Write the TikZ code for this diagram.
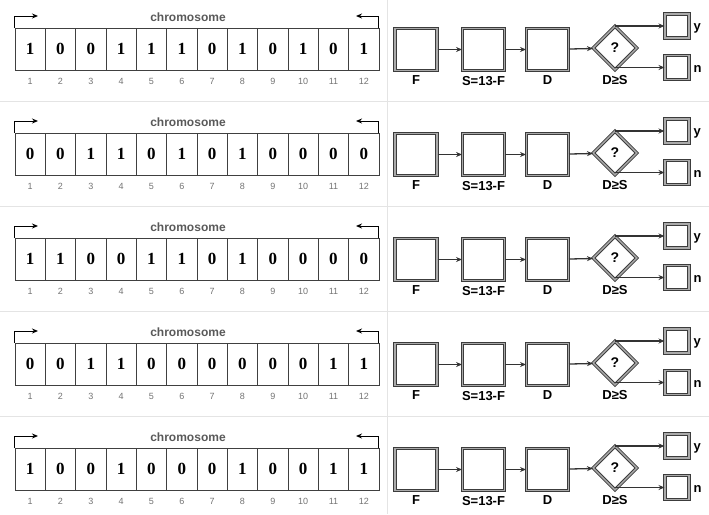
\documentclass[tikz,border=0pt]{standalone}
\usepackage{fontspec}
\setmainfont{Liberation Serif}
\newfontfamily\sansf{Liberation Sans}
\usetikzlibrary{positioning}
\usetikzlibrary{shapes.geometric}
\usetikzlibrary{arrows.meta}

\definecolor{boxdark}{HTML}{3C3C3C}
\definecolor{boxlight}{HTML}{AAAAAA}
\definecolor{sepgray}{HTML}{E4E4E4}

\tikzset{
  cell/.style={draw=black!75, line width=.9pt, minimum width=30.33pt, minimum height=42pt,
    inner sep=0pt, outer sep=0pt, font=\fontsize{17}{17}\selectfont\bfseries},
  idx/.style={text=black!55, inner sep=0pt, font=\sansf\fontsize{9}{9}\selectfont},
  chrom/.style={text=black!65, font=\sansf\bfseries\fontsize{12}{12}\selectfont},
  fbox/.style={draw=boxdark, double=boxlight, line width=1pt, double distance=1.4pt,
    minimum size=42pt, inner sep=0pt},
  sbox/.style={fbox, minimum size=24pt},
  qbox/.style={draw=boxdark, double=boxlight, line width=1pt, double distance=1.4pt,
    diamond, minimum size=44pt, inner sep=0pt, font=\sansf\bfseries\fontsize{14}{14}\selectfont},
  flbl/.style={font=\sansf\bfseries\fontsize{13}{13}\selectfont, inner sep=1pt,
    text height=9.5pt, text depth=0pt},
  arr/.style={draw=black!80, line width=1.3pt, -{Stealth[length=6pt,width=5pt]}},
  brk/.style={black, line width=1pt, -{Stealth[length=6pt,width=5pt]}}
}

\begin{document}
\begin{tikzpicture}[x=1pt,y=-1pt]
\useasboundingbox (0,0) rectangle (709,514);

% row separators
\draw [sepgray, line width=1pt] (387,0) -- (387,514);
\foreach \r in {1,...,4}
  \draw [sepgray, line width=1pt] (0,28+105*\r-32) -- (709,28+105*\r-32);

\foreach \bits [count=\r from 0] in {{1,0,0,1,1,1,0,1,0,1,0,1},{0,0,1,1,0,1,0,1,0,0,0,0},
  {1,1,0,0,1,1,0,1,0,0,0,0},{0,0,1,1,0,0,0,0,0,0,1,1},{1,0,0,1,0,0,0,1,0,0,1,1}} {
\begin{scope}[shift={(0,105*\r)}]
  % chromosome
  \foreach \b [count=\i] in \bits {
    \node [cell] (c\r-\i) at (15+30.33*\i-15.17,49) {\b};
    \node [idx, below=8pt of c\r-\i] (i\r-\i) {\i};
  }
  \node [chrom] (t\r) at (188,17) {chromosome};
  \coordinate (al\r) at (38,16);
  \coordinate (ar\r) at (356,16);
  \draw [brk] (c\r-1.north west) |- (al\r);
  \draw [brk] (c\r-12.north east) |- (ar\r);

  % flow
  \node [fbox] (f\r) at (416,49.5) {};
  \node [fbox] (s\r) at (483.5,49.5) {};
  \node [fbox] (d\r) at (547.5,49.5) {};
  \node [qbox] (q\r) at (615,48) {?};
  \node [sbox] (y\r) at (677,26) {};
  \node [sbox] (n\r) at (677,67.5) {};
  \node [flbl, below=3pt of f\r] (fl\r) {F};
  \node [flbl, below=4pt of s\r] (sl\r) {S=13-F};
  \node [flbl, below=3pt of d\r] (dl\r) {D};
  \node [flbl, below=3pt of q\r] (ql\r) {D≥S};
  \node [flbl, right=3pt of y\r] (yl\r) {y};
  \node [flbl, right=3pt of n\r] (nl\r) {n};
  \draw [arr] (f\r) -- (s\r);
  \draw [arr] (s\r) -- (d\r);
  \draw [arr] (d\r) -- (q\r);
  \draw [arr] (q\r.north |- y\r.west) -- (y\r);
  \draw [arr] (q\r.south |- n\r.west) -- (n\r);
\end{scope}
}
\end{tikzpicture}
\end{document}
